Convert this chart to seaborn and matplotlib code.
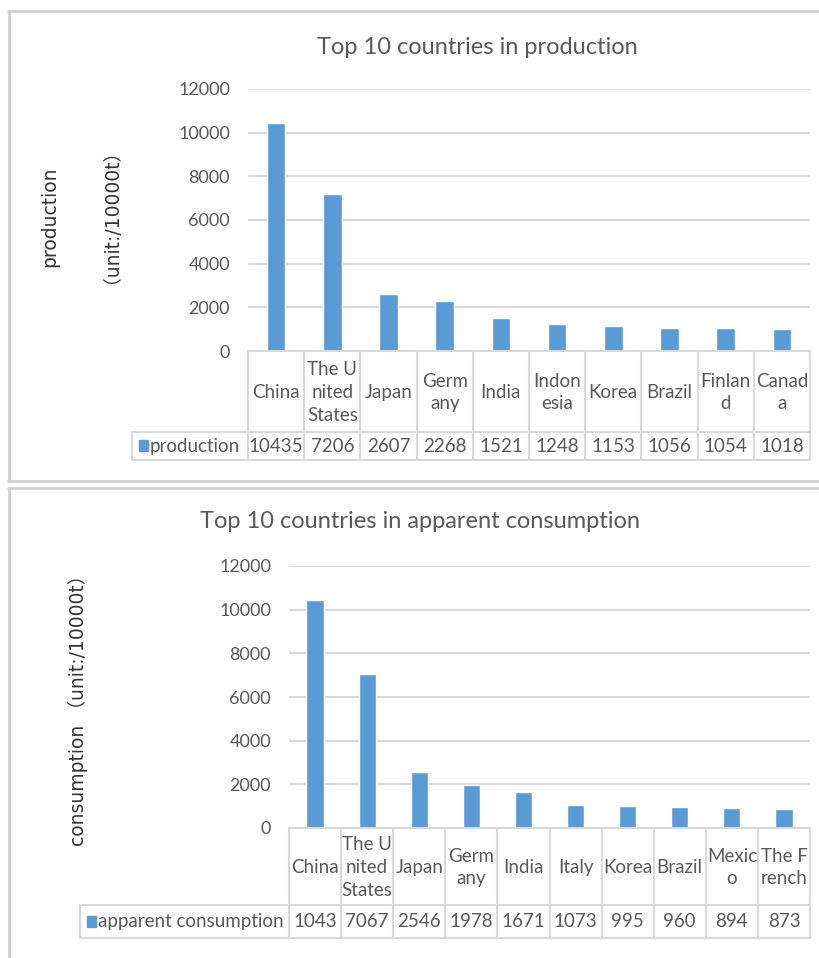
import matplotlib
matplotlib.use("Agg")
import matplotlib.pyplot as plt
import seaborn as sns
import pandas as pd
from matplotlib.lines import Line2D
from matplotlib.patches import Rectangle

# --- datos ---
prod_countries = ["China", "The U\nnited\nStates", "Japan", "Germ\nany", "India",
                  "Indon\nesia", "Korea", "Brazil", "Finlan\nd", "Canad\na"]
prod_values = [10435, 7206, 2607, 2268, 1521, 1248, 1153, 1056, 1054, 1018]
prod_table = ["10435", "7206", "2607", "2268", "1521", "1248", "1153", "1056", "1054", "1018"]

cons_countries = ["China", "The U\nnited\nStates", "Japan", "Germ\nany", "India",
                  "Italy", "Korea", "Brazil", "Mexic\no", "The F\nrench"]
cons_values = [10430, 7067, 2546, 1978, 1671, 1073, 995, 960, 894, 873]
# la tabla original muestra 1043 para China
cons_table = ["1043", "7067", "2546", "1978", "1671", "1073", "995", "960", "894", "873"]

yticks = [0, 2000, 4000, 6000, 8000, 10000, 12000]

W, H = 819, 958
BLUE = "#5B9BD5"
GRID = "#D9D9D9"
TXT = "#595959"
YLAB = ['DejaVu Sans', 'Noto Sans CJK SC']

sns.set_theme(style="white")
plt.rcParams['font.family'] = ['Lato', 'DejaVu Sans']

fig = plt.figure(figsize=(W / 100, H / 100), dpi=100)
fig.patch.set_facecolor("white")


def fx(x):
    return x / W


def fy(y):
    return 1 - y / H


def hline(x0, x1, y, color=GRID, lw=1.0):
    fig.add_artist(Line2D([fx(x0), fx(x1)], [fy(y), fy(y)], color=color, lw=lw,
                          transform=fig.transFigure))


def vline(x, y0, y1, color=GRID, lw=1.0):
    fig.add_artist(Line2D([fx(x), fx(x)], [fy(y0), fy(y1)], color=color, lw=lw,
                          transform=fig.transFigure))


def draw_chart(left, right, top, bottom, row1, row2, leg_left, countries, values,
               table_vals, series, title, title_x, title_y):
    ax = fig.add_axes([fx(left), fy(bottom), fx(right - left), (bottom - top) / H])
    df = pd.DataFrame({"country": countries, "value": values})
    sns.barplot(data=df, x="country", y="value", color=BLUE, width=0.33,
                saturation=1, ax=ax)
    ax.set_xlim(-0.5, 9.5)
    ax.set_ylim(0, 12000)
    ax.set_yticks(yticks)
    ax.set_yticklabels([str(t) for t in yticks], fontsize=13, color=TXT)
    ax.tick_params(axis="y", length=0, pad=13)
    ax.set_xticks([])
    ax.set_xlabel("")
    ax.set_ylabel("")
    for sp in ax.spines.values():
        sp.set_visible(False)
    ax.yaxis.grid(True, color=GRID, lw=1.5)
    ax.set_axisbelow(True)
    ax.patch.set_alpha(0)

    cw = (right - left) / len(countries)
    # tabla de datos
    hline(left, right, bottom, lw=1.5)
    hline(leg_left, right, row1, lw=1.5)
    hline(leg_left, right, row2, lw=1.5)
    vline(leg_left, row1, row2, lw=1.5)
    for i in range(len(countries) + 1):
        vline(left + i * cw, bottom, row2, lw=1.5)
    for i, (c, v) in enumerate(zip(countries, table_vals)):
        cx = left + (i + 0.5) * cw
        fig.text(fx(cx), fy((bottom + row1) / 2 + 1), c, ha="center", va="center",
                 fontsize=13.5, color=TXT, linespacing=1.4)
        fig.text(fx(cx), fy((row1 + row2) / 2), v, ha="center", va="center",
                 fontsize=13.5, color=TXT)
    fig.add_artist(Rectangle((fx(leg_left + 7), fy((row1 + row2) / 2 + 5)),
                             9 / W, 11 / H, color=BLUE, transform=fig.transFigure))
    fig.text(fx(leg_left + 18), fy((row1 + row2) / 2), series, ha="left", va="center",
             fontsize=13.5, color=TXT)
    fig.text(fx(title_x), fy(title_y), title, ha="center", va="center",
             fontsize=17, color=TXT)
    return ax


# --- grafica 1: produccion ---
draw_chart(248, 810, 89, 351, 432, 460, 132, prod_countries, prod_values, prod_table,
           "production", "Top 10 countries in production", 477, 47)
fig.text(fx(50), fy(217), "production", rotation=90, ha="center", va="center",
         fontsize=13.5, color="#333333", family=YLAB)
fig.text(fx(102), fy(206), "（unit:/10000t）", rotation=90, ha="center", va="center",
         fontsize=13.5, color="#333333", family=YLAB)

# --- grafica 2: consumo aparente ---
draw_chart(289, 810, 566, 828, 905, 938, 80, cons_countries, cons_values, cons_table,
           "apparent consumption", "Top 10 countries in apparent consumption", 420, 521)
fig.text(fx(78), fy(706), "consumption （unit:/10000t）", rotation=90, ha="center",
         va="center", fontsize=13.5, color="#333333", family=YLAB)

# marcos de los paneles
hline(8, W, 11, color="#D0D0D0", lw=2)
vline(9, 11, 480, color="#D0D0D0", lw=2)
hline(8, W, 481, color="#D0D0D0", lw=2)
hline(8, W, 488, color="#D0D0D0", lw=2)
vline(9, 488, H, color="#D0D0D0", lw=2)

fig.savefig("out.png", dpi=100)
